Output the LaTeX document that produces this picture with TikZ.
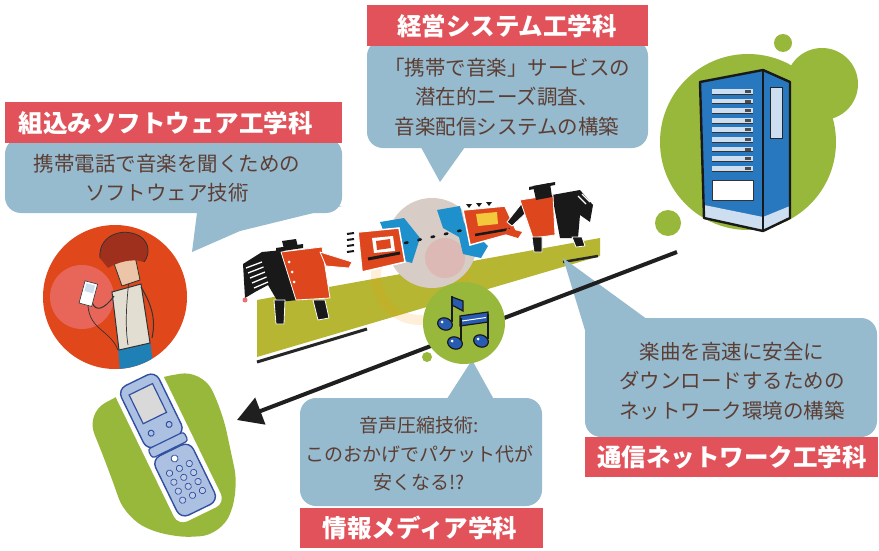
\documentclass[tikz,border=0pt]{standalone}
\usepackage{fontspec}
\newfontfamily\jp{Noto Sans CJK JP}
\usetikzlibrary{arrows.meta}

\definecolor{deptred}{RGB}{226,82,90}
\definecolor{saybg}{RGB}{150,186,206}
\definecolor{saytxt}{RGB}{92,62,52}
\definecolor{leaf}{RGB}{152,184,60}
\definecolor{bandolive}{RGB}{182,182,50}
\definecolor{rackblue}{RGB}{40,120,192}
\definecolor{rackpale}{RGB}{205,222,240}
\definecolor{medal}{RGB}{224,72,28}
\definecolor{glowpink}{RGB}{236,112,112}
\definecolor{shirt}{RGB}{226,222,210}
\definecolor{denim}{RGB}{30,128,180}
\definecolor{hair}{RGB}{160,48,30}
\definecolor{skin}{RGB}{236,196,168}
\definecolor{phonebody}{RGB}{172,192,226}
\definecolor{phoneline}{RGB}{50,80,160}
\definecolor{coatred}{RGB}{222,70,30}
\definecolor{globegray}{RGB}{216,204,198}
\definecolor{globeblue}{RGB}{30,144,204}
\definecolor{screenyel}{RGB}{244,200,60}
\definecolor{noteblue}{RGB}{40,92,178}

\tikzset{
  deptbar/.style={fill=deptred},
  depttext/.style={text=white, inner sep=0pt, font=\jp\bfseries\fontsize{24.5}{28}\selectfont},
  saybox/.style={fill=saybg, rounded corners=16pt},
  saytail/.style={fill=saybg},
  saytext/.style={text=saytxt, align=center, inner sep=0pt, font=\jp\fontsize{20.5}{29.5}\selectfont},
  saysmall/.style={text=saytxt, align=center, inner sep=0pt, font=\jp\fontsize{19}{28.5}\selectfont},
  blob/.style={fill=leaf},
  figpart/.style={draw=white, line width=0.8pt, line join=round},
  flow/.style={draw=black!88, line width=4pt, -{Triangle[length=25pt,width=28pt]}},
  rackline/.style={draw=black!90, line width=2.4pt, line join=round},
}

\begin{document}
\begin{tikzpicture}[x=1pt,y=-1pt]
\useasboundingbox (0,0) rectangle (879,551);
\fill[white] (0,0) rectangle (879,551);

% ---------- server rack on green discs ----------
\fill[blob] (748,142) circle (88);
\fill[blob] (822,84) circle (36);
\fill[blob] (783,43) circle (9);
\fill[blob] (668,223) circle (13);
\fill[rackblue] (700,82) -- (763,70) -- (763,231) -- (704,218) -- cycle;
\fill[rackblue] (763,70) -- (790,82) -- (790,218) -- (763,231) -- cycle;
\fill[rackpale] (704,205) -- (763,217) -- (763,231) -- (704,218) -- cycle;
\fill[rackpale] (763,217) -- (790,206) -- (790,218) -- (763,231) -- cycle;
\foreach \k in {0,...,8}{
  \fill[rackpale] (712,{89+\k*9.6}) rectangle (753,{94+\k*9.6});
  \draw[black!80, line width=0.6pt] (712,{94+\k*9.6}) -- (753,{94+\k*9.6});
  \fill[black!70] (745,{90+\k*9.6}) rectangle (751,{93+\k*9.6});
}
\fill[white] (712,180) rectangle (753,200);
\draw[black!80, line width=0.8pt] (712,180) rectangle (753,200);
\fill[rackpale] (770,88) rectangle (782,138);
\draw[black!85, line width=1pt] (770,88) rectangle (782,138);
\draw[rackline] (700,82) -- (763,70) -- (790,82) -- (790,218) -- (763,231) -- (704,218) -- cycle;
\draw[rackline] (763,70) -- (763,231);

% ---------- boy with music player ----------
\fill[medal] (115,297) circle (72);
\begin{scope}
  \clip (115,297) circle (72);
  \fill[glowpink, opacity=0.75] (82,297) circle (32);
  \fill[denim] (118,346) -- (150,340) -- (154,372) -- (120,372) -- cycle;
  \fill[shirt] (112,292) -- (141,284) -- (150,343) -- (119,350) -- cycle;
  \draw[black!80, line width=1pt] (112,292) -- (141,284) -- (150,343) -- (119,350) -- cycle;
  \draw[black!80, line width=1pt] (141,287) .. controls (152,305) and (156,320) .. (152,338);
  \draw[black!80, line width=1pt] (114,296) .. controls (104,310) and (95,312) .. (92,302);
  \draw[black!80, line width=0.7pt] (88,306) .. controls (90,330) and (110,330) .. (118,350);
  \draw[black!80, line width=0.7pt] (130,270) .. controls (128,290) and (124,320) .. (128,345);
  \fill[skin] (112,258) -- (135,256) -- (140,280) -- (122,286) -- cycle;
  \draw[black!80, line width=0.8pt] (112,258) -- (135,256) -- (140,280) -- (122,286) -- cycle;
  \fill[hair] (100,258) .. controls (98,238) and (118,228) .. (135,234)
    .. controls (148,238) and (152,252) .. (144,262)
    .. controls (132,258) and (118,262) .. (108,268) -- cycle;
  \draw[black!80, line width=0.8pt] (100,258) .. controls (98,238) and (118,228) .. (135,234)
    .. controls (148,238) and (152,252) .. (144,262);
  \fill[white, rotate around={-15:(88,293)}] (82,282) rectangle (95,305);
  \fill[rackpale, rotate around={-15:(88,293)}] (84,284) rectangle (93,292);
  \draw[black!80, line width=0.6pt, rotate around={-15:(88,293)}] (82,282) rectangle (95,305);
\end{scope}

% ---------- flip phone on green patch ----------
\fill[blob, rounded corners=22pt] (86,413) -- (150,379) -- (202,370) -- (222,410) -- (239,490)
  -- (222,535) -- (170,538) -- (126,519) -- (108,468) -- cycle;
\begin{scope}[shift={(168,445)}, rotate=26]
  \fill[white, rounded corners=10pt] (-26,-77) rectangle (26,77);
  \fill[phonebody, draw=phoneline, line width=1.4pt, rounded corners=9pt] (-21,-72) rectangle (21,-4);
  \fill[black!15, draw=phoneline, line width=1.2pt] (-13,-62) rectangle (13,-30);
  \fill[phonebody, draw=phoneline, line width=1pt] (-10,-18) circle (3) (10,-18) circle (3);
  \fill[phonebody, draw=phoneline, line width=1.2pt, rounded corners=3pt] (-20,-5) rectangle (20,5);
  \fill[phonebody, draw=phoneline, line width=1.4pt, rounded corners=9pt] (-21,6) rectangle (21,72);
  \fill[white, draw=phoneline, line width=0.8pt] (0,15) circle (3.5);
  \foreach \r in {0,...,3}{
    \foreach \c in {-11,0,11}{
      \fill[phonebody!80!white, draw=phoneline, line width=0.7pt] (\c,{26+\r*10}) circle (3.2);
    }
  }
\end{scope}

% ---------- band, globe and the two figures ----------
\fill[bandolive] (257,300) -- (600,238) -- (600,256) -- (257,357) -- cycle;
\draw[black!85, line width=3pt] (257,362) -- (367,329);
\draw[black!85, line width=2.5pt] (563,262) -- (598,256);
\draw[orange!80!yellow, opacity=0.15, line width=10pt] (420,276) circle (44);

\fill[globegray] (432,243) circle (45);
\fill[glowpink, opacity=0.2] (445,258) circle (20);
\fill[globeblue] (437,210) -- (460,206) -- (464,223) -- (488,246) -- (481,258) -- (463,254) -- (459,237) -- (443,228) -- cycle;
\fill[globeblue] (380,222) -- (404,218) -- (420,238) -- (412,263) -- (394,258) -- cycle;

% left figure
\fill[black!90] (243,264) -- (262,252) -- (283,250) -- (296,255) -- (298,300) -- (278,302) -- (268,285) -- (255,292) -- (245,298) -- cycle;
\foreach \k in {0,...,4}{
  \draw[white, line width=1.3pt] ({246+\k*2},{268+\k*5}) -- ({262+\k*1.5},{262+\k*5});
}
\fill[coatred, figpart] (281,252) -- (322,247) -- (330,298) -- (296,300) -- cycle;
\fill[coatred, figpart] (320,252) -- (352,262) -- (349,268) -- (326,266) -- cycle;
\fill[black!90, figpart] (274,300) -- (285,300) -- (284,324) -- (276,324) -- cycle;
\fill[black!90, figpart] (313,300) -- (325,300) -- (329,318) -- (318,320) -- cycle;
\fill[black!90] (282,241) -- (296,239) -- (298,247) -- (284,249) -- cycle;
\fill[black!90] (276,248) -- (303,244) -- (303,248) -- (276,252) -- cycle;
\fill[white] (289,262) circle (1.5) (292,272) circle (1.5) (294,282) circle (1.5);
\fill[glowpink] (245,300) circle (2.5);

% left device
\foreach \k in {0,...,3}{
  \draw[black!90, line width=2pt] (347,{234+\k*6}) -- (354,{233+\k*6});
}
\fill[coatred, draw=white, line width=1.5pt] (358,232) -- (399,228) -- (405,262) -- (362,272) -- cycle;
\fill[white] (372,238) -- (393,236) -- (395,251) -- (374,253) -- cycle;
\fill[coatred] (376,241) -- (390,239) -- (391,248) -- (377,250) -- cycle;
\draw[black!90, line width=3pt] (368,259) -- (400,253);

% dotted link through the globe
\draw[black!90, line width=2.6pt, dash pattern=on 2.6pt off 11pt, line cap=round] (405,243) -- (463,230);

% right device
\fill[black!90] (466,204) -- (472,204) -- (469,208) -- cycle (476,203) -- (482,203) -- (479,207) -- cycle (486,202) -- (492,202) -- (489,206) -- cycle;
\fill[coatred, draw=white, line width=1.5pt] (463,210) -- (505,206) -- (517,232) -- (470,245) -- cycle;
\fill[screenyel] (476,214) -- (497,212) -- (498,224) -- (478,226) -- cycle;
\draw[black!90, line width=2.5pt] (475,235) -- (510,229);

% right figure
\fill[black!90] (552,195) -- (580,190) -- (593,205) -- (590,222) -- (580,215) -- (578,238) -- (560,238) -- cycle;
\draw[white, line width=1.2pt] (578,196) -- (586,204) (582,194) -- (590,202);
\fill[black!90, figpart] (522,203) -- (507,222) -- (512,226) -- (528,211) -- cycle;
\fill[coatred, figpart] (520,200) -- (553,195) -- (555,235) -- (533,238) -- cycle;
\fill[coatred] (507,228) -- (522,232) -- (518,238) -- (505,234) -- cycle;
\fill[black!90] (533,186) -- (550,183) -- (552,197) -- (536,200) -- cycle;
\fill[black!90] (529,187) -- (555,182) -- (555,185) -- (529,190) -- cycle;
\fill[black!90, figpart] (532,237) -- (542,237) -- (542,252) -- (534,252) -- cycle;
\fill[black!90, figpart] (572,237) -- (582,237) -- (585,246) -- (576,247) -- cycle;

% ---------- speech bubbles ----------
\fill[saybox] (5,138) rectangle (342,213);
\fill[saytail] (198,205) -- (192,252) -- (240,231) -- (342,206) -- cycle;

\fill[saybox] (367,40) rectangle (648,148);
\fill[saytail] (417,140) -- (440,182) -- (470,140) -- cycle;

\fill[saybox] (300,398) rectangle (542,506);
\fill[saytail] (443,405) -- (472,360) -- (497,405) -- cycle;

\fill[saybox] (585,318) rectangle (877,437);
\fill[saytail] (588,340) -- (563,258) -- (655,325) -- cycle;

% ---------- flow arrow ----------
\coordinate (flowstart) at (677,252);
\coordinate (flowend) at (237,420);
\draw[flow] (flowstart) -- (flowend);

% ---------- music notes ----------
\fill[blob] (464,323) circle (41);
\fill[blob] (427,357) circle (5);
\begin{scope}[draw=black!90, line width=1.2pt]
  \fill[noteblue, draw=black!90, line width=1.2pt] (463,301) -- (452,297) -- (452,305) -- (463,311) -- cycle;
  \draw[line width=2.2pt] (452,296) -- (452,322);
  \fill[noteblue, draw=black!90, line width=1.2pt, rotate around={-20:(445,324)}] (445,324) ellipse (7.5 and 6);
  \fill[noteblue, draw=black!90, line width=1.2pt] (460,316) -- (488,312) -- (488,322) -- (460,326) -- cycle;
  \draw[white, line width=1pt] (462,321) -- (486,317.5);
  \draw[line width=2.2pt] (461,318) -- (461,341) (488,314) -- (488,339);
  \fill[noteblue, draw=black!90, line width=1.2pt, rotate around={-20:(455,343)}] (455,343) ellipse (7.5 and 6);
  \fill[noteblue, draw=black!90, line width=1.2pt, rotate around={-20:(481,341)}] (481,341) ellipse (7.5 and 6);
  \fill[white] (452,341) circle (1.5) (478,339) circle (1.5) (442,322) circle (1.5);
\end{scope}

% ---------- department labels ----------
\fill[deptbar] (5,102) rectangle (342,143);
\node[depttext] (emb) at (166,123) {組込みソフトウェア工学科};
\fill[deptbar] (367,5) rectangle (648,46);
\node[depttext] (mgmt) at (507,26) {経営システム工学科};
\fill[deptbar] (300,508) rectangle (543,548);
\node[depttext] (media) at (420,528) {情報メディア学科};
\fill[deptbar] (585,437) rectangle (878,477);
\node[depttext] (net) at (732,457) {通信ネットワーク工学科};

% ---------- bubble texts ----------
\node[saytext] (embsay) at (167,178) {携帯電話で音楽を聞くための\\ソフトウェア技術};
\node[saytext] (mgmtsay) at (507,97) {「携帯で音楽」サービスの\\潜在的ニーズ調査、\\音楽配信システムの構築};
\node[saysmall] (mediasay) at (419,454) {音声圧縮技術:\\このおかげでパケット代が\\安くなる!?};
\node[saytext] (netsay) at (732,381) {楽曲を高速に安全に\\ダウンロードするための\\ネットワーク環境の構築};
\end{tikzpicture}
\end{document}
